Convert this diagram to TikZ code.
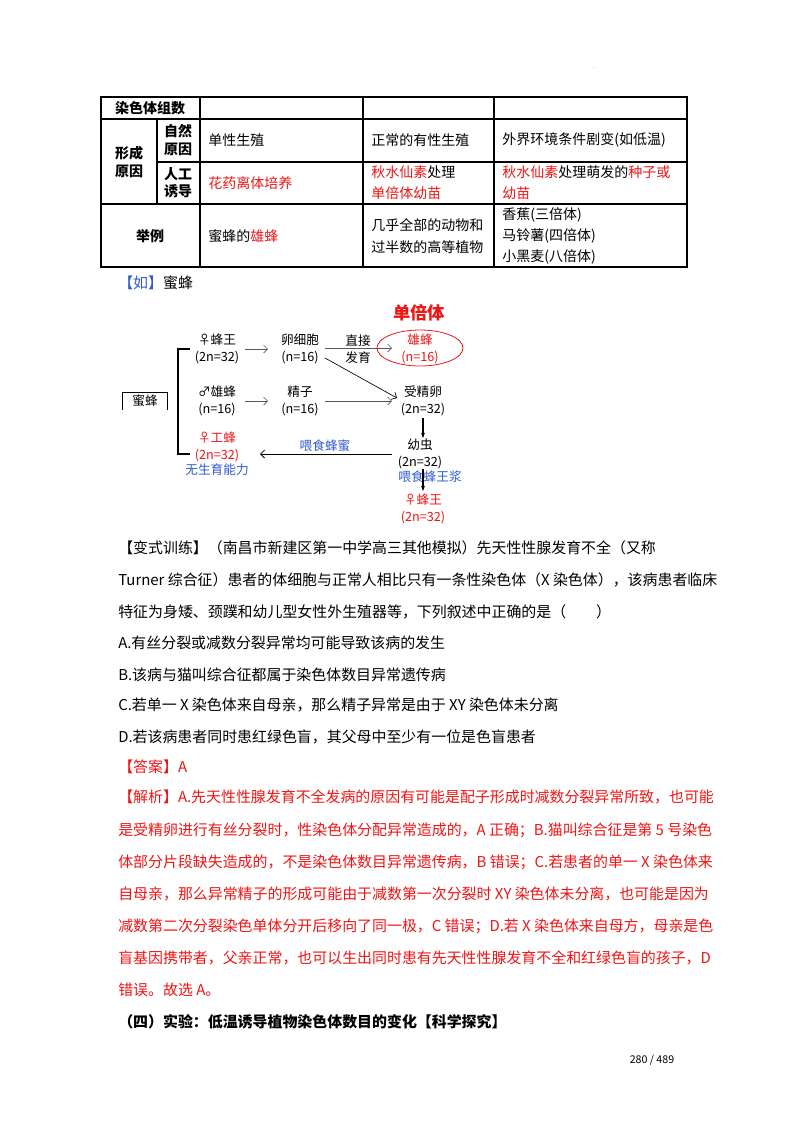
\documentclass[tikz,border=0pt]{standalone}
\usepackage{fontspec}
\setmainfont{Noto Sans CJK SC}
\usetikzlibrary{arrows.meta}
\definecolor{rd}{RGB}{240,20,20}
\definecolor{bl}{RGB}{50,90,210}
\tikzset{
 tbl/.style={line width=0.8pt},
 tc/.style={font=\fontsize{10.5}{13}\selectfont,anchor=west,align=left,inner sep=0},
 th/.style={font=\fontsize{10.5}{13}\selectfont\bfseries,align=center,inner sep=0},
 dg/.style={font=\fontsize{9.5}{11}\selectfont,inner sep=0},
 ar/.style={-{Straight Barb[length=3pt]},line width=0.5pt,gray!70!black},
 body/.style={font=\fontsize{11.2}{14}\selectfont,anchor=west,inner sep=0},
}
\begin{document}
\begin{tikzpicture}[x=0.75pt,y=-0.75pt]
\useasboundingbox (0,0) rectangle (800,1132);
\node at (594,68) {\fontsize{4}{4}\selectfont .};
% table
\draw[tbl] (101,97) rectangle (687,267);
\foreach \yy in {119,204} \draw[tbl] (101,\yy) -- (687,\yy);
\draw[tbl] (157,162) -- (687,162);
\draw[tbl] (157,119) -- (157,204);
\draw[tbl] (200,97) -- (200,267);
\draw[tbl] (363,97) -- (363,267);
\draw[tbl] (494,97) -- (494,267);
\node[th] (h1) at (150,108) {染色体组数};
\node[th] (h2) at (129,162) {形成\\原因};
\node[th] (h3) at (178,140) {自然\\原因};
\node[th] (h4) at (178,183) {人工\\诱导};
\node[th] (h5) at (150,236) {举例};
\node[tc] (c1) at (208,140) {单性生殖};
\node[tc] (c2) at (371,140) {正常的有性生殖};
\node[tc] (c3) at (502,140) {外界环境条件剧变(如低温)};
\node[tc,rd] (c4) at (208,183) {花药离体培养};
\node[tc] (c5) at (371,183) {\textcolor{rd}{秋水仙素}处理\\[3pt]\textcolor{rd}{单倍体幼苗}};
\node[tc] (c6) at (502,183) {\textcolor{rd}{秋水仙素}处理萌发的\textcolor{rd}{种子或}\\[3pt]\textcolor{rd}{幼苗}};
\node[tc] (c7) at (208,236) {蜜蜂的\textcolor{rd}{雄蜂}};
\node[tc] (c8) at (371,236) {几乎全部的动物和\\[4pt]过半数的高等植物};
\node[tc] (c9) at (502,236) {香蕉(三倍体)\\[3pt]马铃薯(四倍体)\\[3pt]小黑麦(八倍体)};
% example
\node[body] (ru) at (118,283) {\textcolor{bl}{【如】}蜜蜂};
% diagram
\node[dg,rd,font=\fontsize{13}{14}\selectfont\bfseries] (hap) at (419,313) {单倍体};
\draw[rd,line width=0.6pt] (420,348) ellipse (43 and 18);
\node[dg,align=center] (qA) at (217,349) {♀蜂王\\[2pt](2n=32)};
\node[dg,align=center] (egg) at (300,349) {卵细胞\\[2pt](n=16)};
\node[dg,align=center] (zj) at (358,349) {直接\\[2pt]发育};
\node[dg,align=center,rd] (drone) at (420,349) {雄蜂\\[2pt](n=16)};
\node[dg,align=center] (m1) at (217,401) {♂雄蜂\\[2pt](n=16)};
\node[dg,align=center] (sp) at (300,401) {精子\\[2pt](n=16)};
\node[dg,align=center] (zyg) at (423,401) {受精卵\\[2pt](2n=32)};
\node[dg,align=center] (lar) at (420,454) {幼虫\\[2pt](2n=32)};
\node[dg,align=center,rd] (q2) at (423,509) {♀蜂王\\[2pt](2n=32)};
\node[dg,align=center,rd] (wk) at (217,447) {♀工蜂\\[2pt](2n=32)};
\node[dg,bl] (wl) at (217,470) {无生育能力};
\node[dg,bl] (fh) at (325,446) {喂食蜂蜜};
\node[dg,bl] (fr) at (430,477) {喂食蜂王浆};
\node[dg] (mf) at (145,401) {蜜蜂};
\draw[line width=0.6pt] (122,410) -- (122,392) -- (167,392) -- (167,410);
\coordinate (a1) at (245,349); \coordinate (a2) at (268,349);
\draw[ar] (a1) -- (a2);
\coordinate (b1) at (325,348); \coordinate (b2) at (392,348);
\draw[ar] (b1) -- (b2);
\coordinate (c1) at (245,401); \coordinate (c2) at (268,401);
\draw[ar] (c1) -- (c2);
\coordinate (d1) at (325,401); \coordinate (d2) at (392,401);
\draw[ar] (d1) -- (d2);
\coordinate (e1) at (325,358); \coordinate (e2) at (397,398);
\draw[ar,black] (e1) -- (e2);
\draw[-{Stealth[length=4pt]},line width=0.8pt] (423,418) -- (423,438);
\draw[-{Stealth[length=4pt]},line width=0.8pt] (423,469) -- (423,491);
\coordinate (f1) at (392,454); \coordinate (f2) at (260,454);
\draw[-{Straight Barb[length=3pt]},line width=0.6pt] (f1) -- (f2);
\draw[line width=0.8pt] (190,349) -- (178,349) -- (178,454) -- (190,454);
% body text
\node[body] (t1) at (118,548) {【变式训练】（南昌市新建区第一中学高三其他模拟）先天性性腺发育不全（又称};
\node[body] (t2) at (118,580) {Turner 综合征）患者的体细胞与正常人相比只有一条性染色体（X 染色体），该病患者临床};
\node[body] (t3) at (118,612) {特征为身矮、颈蹼和幼儿型女性外生殖器等，下列叙述中正确的是（\quad\quad）};
\node[body] (t4) at (118,643) {A.有丝分裂或减数分裂异常均可能导致该病的发生};
\node[body] (t5) at (118,675) {B.该病与猫叫综合征都属于染色体数目异常遗传病};
\node[body] (t6) at (118,705) {C.若单一 X 染色体来自母亲，那么精子异常是由于 XY 染色体未分离};
\node[body] (t7) at (118,737) {D.若该病患者同时患红绿色盲，其父母中至少有一位是色盲患者};
\node[body,rd] (t8) at (118,767) {【答案】A};
\begin{scope}[every node/.style={body,rd}]
\node (j1) at (118,797) {【解析】A.先天性性腺发育不全发病的原因有可能是配子形成时减数分裂异常所致，也可能};
\node (j2) at (118,830) {是受精卵进行有丝分裂时，性染色体分配异常造成的，A 正确；B.猫叫综合征是第 5 号染色};
\node (j3) at (118,862) {体部分片段缺失造成的，不是染色体数目异常遗传病，B 错误；C.若患者的单一 X 染色体来};
\node (j4) at (118,894) {自母亲，那么异常精子的形成可能由于减数第一次分裂时 XY 染色体未分离，也可能是因为};
\node (j5) at (118,926) {减数第二次分裂染色单体分开后移向了同一极，C 错误；D.若 X 染色体来自母方，母亲是色};
\node (j6) at (118,958) {盲基因携带者，父亲正常，也可以生出同时患有先天性性腺发育不全和红绿色盲的孩子，D};
\node (j7) at (118,990) {错误。故选 A。};
\end{scope}
\node[body,font=\fontsize{11.2}{14}\selectfont\bfseries] (s4) at (118,1022) {（四）实验：低温诱导植物染色体数目的变化【科学探究】};
\node[font=\fontsize{8}{9}\selectfont,inner sep=0] (pg) at (652,1060) {280 / 489};
\end{tikzpicture}
\end{document}
